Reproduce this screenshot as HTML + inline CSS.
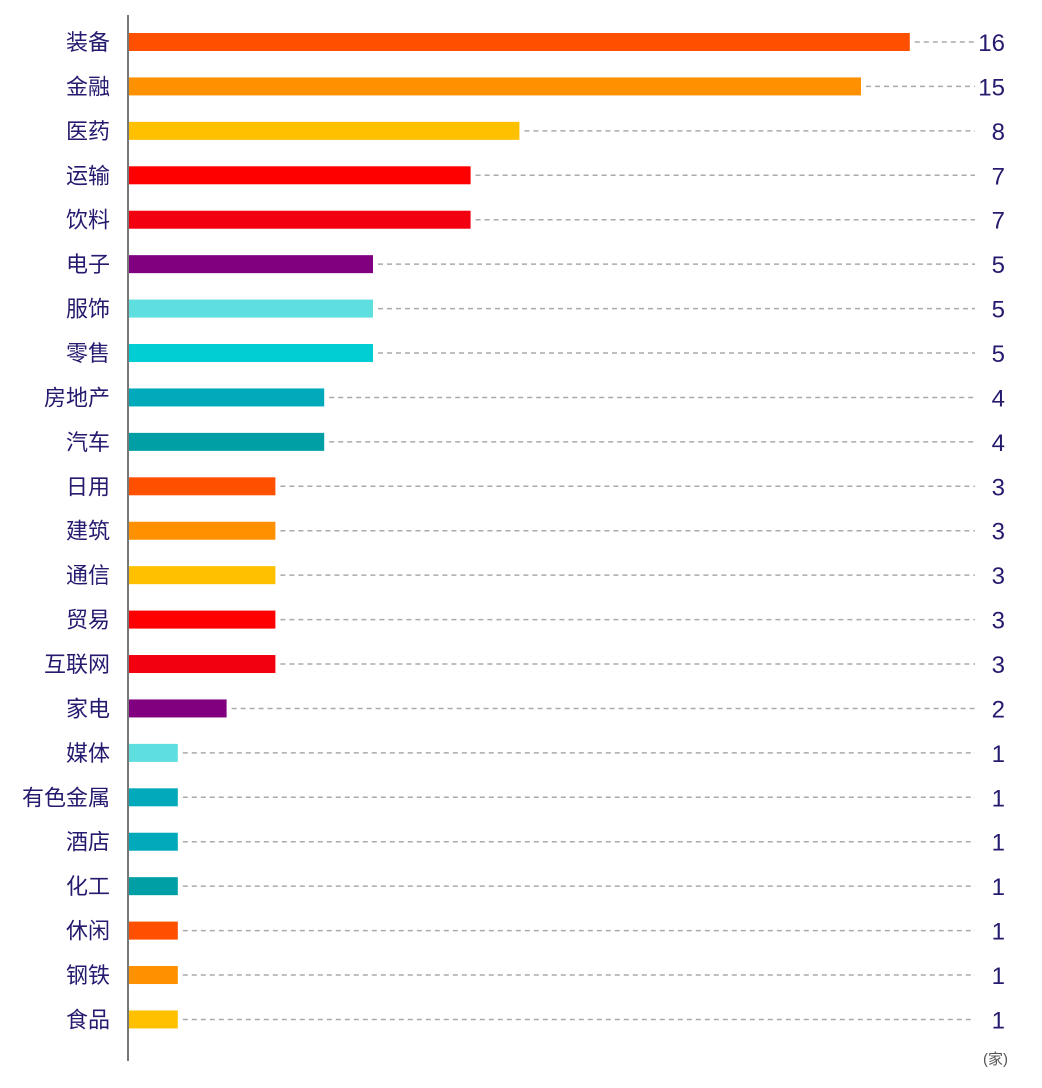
<!DOCTYPE html>
<html><head><meta charset="utf-8"><style>
html,body{margin:0;padding:0;background:#fff;}
svg{display:block;}
text{font-family:"Liberation Sans","Noto Sans CJK SC",sans-serif;}
</style></head><body>
<svg width="1042" height="1088" xmlns="http://www.w3.org/2000/svg">
<g id="c"></g>
</svg>
<script>
const d=[["装备",16,"#FF5000"],["金融",15,"#FF9000"],["医药",8,"#FFC000"],["运输",7,"#FF0000"],["饮料",7,"#F20010"],["电子",5,"#800080"],["服饰",5,"#5EDEDE"],["零售",5,"#00CED3"],["房地产",4,"#00AABB"],["汽车",4,"#009FA5"],["日用",3,"#FF5000"],["建筑",3,"#FF9000"],["通信",3,"#FFC000"],["贸易",3,"#FF0000"],["互联网",3,"#F20010"],["家电",2,"#800080"],["媒体",1,"#5EDEDE"],["有色金属",1,"#00AABB"],["酒店",1,"#00AABB"],["化工",1,"#009FA5"],["休闲",1,"#FF5000"],["钢铁",1,"#FF9000"],["食品",1,"#FFC000"]];
let s="";
const x0=129,k=48.8,step=44.43;
d.forEach((r,i)=>{
 const cy=42+i*step, w=r[1]*k;
 s+=`<line x1="${x0+w+5}" y1="${cy}" x2="975" y2="${cy}" stroke="#aaa" stroke-width="1.5" stroke-dasharray="5,4"/>`;
 s+=`<rect x="${x0}" y="${cy-9}" width="${w}" height="18" fill="${r[2]}"/>`;
 s+=`<text x="110" y="${cy+8}" text-anchor="end" font-size="22" fill="#241a6e">${r[0]}</text>`;
 s+=`<text x="1005" y="${cy+9}" text-anchor="end" font-size="24" fill="#241a6e">${r[1]}</text>`;
});
s+=`<line x1="128" y1="15" x2="128" y2="1061" stroke="#777" stroke-width="2"/>`;
s+=`<text x="1008" y="1064" text-anchor="end" font-size="15" fill="#555">(家)</text>`;
document.getElementById("c").innerHTML=s;
</script>
</body></html>
